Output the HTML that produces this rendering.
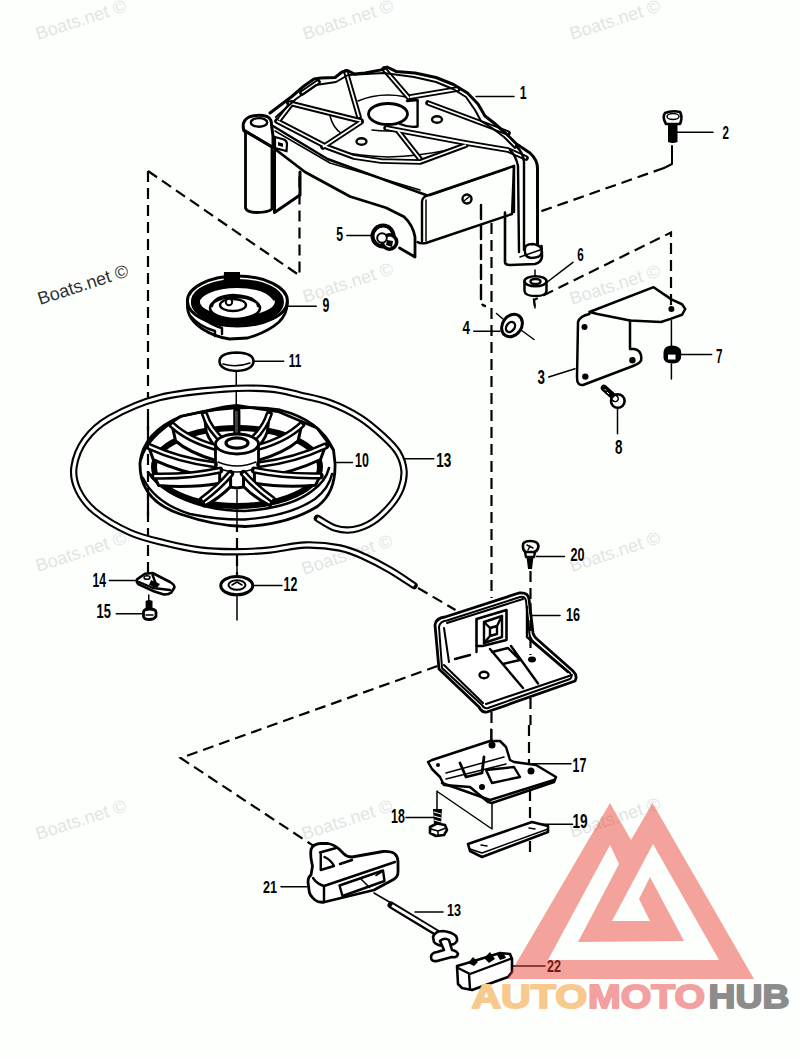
<!DOCTYPE html>
<html><head><meta charset="utf-8">
<style>
html,body{margin:0;padding:0;background:#fdfffd;}
body{width:800px;height:1059px;overflow:hidden;position:relative;}
svg{position:absolute;left:0;top:0;}
.wm{font-family:"Liberation Sans",sans-serif;font-size:18px;fill:#e2e4e2;}
.lb{font-family:"Liberation Sans",sans-serif;font-weight:bold;font-size:20px;fill:#000;}
.k{fill:none;stroke:#000;stroke-width:2.4;stroke-linecap:round;stroke-linejoin:round;}
.t{fill:none;stroke:#000;stroke-width:1.5;stroke-linecap:round;stroke-linejoin:round;}
.d{fill:none;stroke:#000;stroke-width:2.2;stroke-dasharray:11 6;}
.w{fill:#fff;stroke:#000;stroke-width:2.2;stroke-linejoin:round;}
</style></head><body>
<svg width="800" height="1059" viewBox="0 0 800 1059">
<!-- watermarks -->
<g id="wms">
<text class="wm" transform="translate(38,40) rotate(-18)">Boats.net ©</text>
<text class="wm" transform="translate(305,40) rotate(-18)">Boats.net ©</text>
<text class="wm" transform="translate(572,40) rotate(-18)">Boats.net ©</text>
<text class="wm" style="fill:#303030" transform="translate(40,305) rotate(-18)">Boats.net ©</text>
<text class="wm" transform="translate(305,303) rotate(-18)">Boats.net ©</text>
<text class="wm" transform="translate(572,305) rotate(-18)">Boats.net ©</text>
<text class="wm" transform="translate(38,572) rotate(-18)">Boats.net ©</text>
<text class="wm" transform="translate(304,575) rotate(-18)">Boats.net ©</text>
<text class="wm" transform="translate(572,572) rotate(-18)">Boats.net ©</text>
<text class="wm" transform="translate(38,840) rotate(-18)">Boats.net ©</text>
<text class="wm" transform="translate(304,840) rotate(-18)">Boats.net ©</text>
<text class="wm" transform="translate(572,838) rotate(-18)">Boats.net ©</text>
</g>
<!-- dashed lines -->
<g id="dash">
<path class="d" d="M148,171 L148,573"/>
<path class="d" d="M148,171 L299.5,275.5 L299.5,172"/>
<path class="t" style="stroke-width:2" d="M672,146 L672,164 L664,168"/><path class="d" d="M664,168 L537.5,212.5"/>
<path class="d" d="M671,305 L671,232.5 L534,300 L535,307"/>
<path class="d" d="M437.5,666 L180.6,758 L313.75,846"/>
<path class="d" d="M418,588 L455.5,610"/>
<path class="d" d="M491.5,223 L491.5,598"/>
<path class="d" d="M237,470 L237,575"/>
</g>
<!-- labels -->
<g id="labels">
<text class="lb" transform="translate(519.81,99.00) scale(0.620,0.942)">1</text>
<text class="lb" transform="translate(722.50,139.00) scale(0.580,0.943)">2</text>
<text class="lb" transform="translate(537.50,383.56) scale(0.670,0.968)">3</text>
<text class="lb" transform="translate(462.50,333.75) scale(0.670,0.906)">4</text>
<text class="lb" transform="translate(336.25,241.05) scale(0.612,0.982)">5</text>
<text class="lb" transform="translate(577.25,260.81) scale(0.585,0.958)">6</text>
<text class="lb" transform="translate(716.00,363.00) scale(0.580,1.043)">7</text>
<text class="lb" transform="translate(615.00,453.56) scale(0.670,0.968)">8</text>
<text class="lb" transform="translate(322.50,312.31) scale(0.616,0.968)">9</text>
<text class="lb" transform="translate(355.00,467.31) scale(0.619,0.968)">10</text>
<text class="lb" transform="translate(288.75,367.00) scale(0.590,0.960)">11</text>
<text class="lb" transform="translate(283.50,591.10) scale(0.619,0.979)">12</text>
<text class="lb" transform="translate(436.25,467.31) scale(0.676,0.968)">13</text>
<text class="lb" transform="translate(92.40,587.00) scale(0.612,0.996)">14</text>
<text class="lb" transform="translate(96.50,618.40) scale(0.644,0.979)">15</text>
<text class="lb" transform="translate(566.00,620.81) scale(0.631,0.951)">16</text>
<text class="lb" transform="translate(572.50,772.00) scale(0.619,0.996)">17</text>
<text class="lb" transform="translate(391.00,822.70) scale(0.619,0.979)">18</text>
<text class="lb" transform="translate(572.50,828.21) scale(0.680,0.972)">19</text>
<text class="lb" transform="translate(570.50,561.31) scale(0.631,0.951)">20</text>
<text class="lb" transform="translate(263.00,893.20) scale(0.631,0.857)">21</text>
<text class="lb" transform="translate(547.00,972.00) scale(0.631,0.857)">22</text>
<text class="lb" transform="translate(447.00,915.83) scale(0.631,0.845)">13</text>
<path class="t" d="M476,96.5 L514,96.5"/>
<path class="t" d="M677.5,132.3 L713,132.3"/>
<path class="t" d="M548.75,377 L575,368.75"/>
<path class="t" d="M473.75,331.25 L500,331.25"/>
<path class="t" d="M346.9,235.6 L371,235.6"/>
<path class="t" d="M572.9,262.3 L545,283.75"/>
<path class="t" d="M681,354.6 L711.7,354.6"/>
<path class="t" d="M617.5,407.5 L617.5,433.75"/>
<path class="t" d="M286.25,306.25 L316.25,306.25"/>
<path class="t" d="M333.75,462.5 L352.5,462.5"/>
<path class="t" d="M253,361.25 L283.75,361.25"/>
<path class="t" d="M253.25,585.6 L282,585.6"/>
<path class="t" d="M405,458.75 L433.75,458.75"/>
<path class="t" d="M109.4,580.6 L136.25,580.6"/>
<path class="t" d="M116.25,613.75 L143.75,613.75"/>
<path class="t" d="M532,615.5 L560,615.5"/>
<path class="t" d="M532.6,763.75 L571,763.75"/>
<path class="t" d="M406,817.4 L433.6,817.4"/>
<path class="t" d="M542.25,824.25 L572.5,824.25"/>
<path class="t" d="M536.5,556.5 L564.5,556.5"/>
<path class="t" d="M281,886.8 L307,886.8"/>
<path class="t" d="M513,966 L545,966"/>
<path class="t" d="M415,912 L443,912"/>
</g>
<g id="p9">
<path class="w" style="stroke-width:2.8" d="M187.5,303 Q186,318 202.5,329 Q215,337 229.5,339 L247.5,338 Q268,332 279,322 Q287,314 287.2,303 Z"/>
<path class="k" d="M190.5,316 Q200,327 215,331 L215,336 M205,320 Q214,326 222,328 L222,334"/>
<ellipse class="w" style="stroke-width:3" cx="237.4" cy="301" rx="50" ry="25"/>
<ellipse fill="none" stroke="#000" stroke-width="9" cx="237.4" cy="302" rx="42" ry="18.5"/>
<ellipse class="w" style="stroke-width:2.6" cx="235" cy="308" rx="25" ry="11"/>
<path class="k" d="M212,306 Q214,296 233,295 Q256,296 258,306"/>
<ellipse class="w" style="stroke-width:2.4" cx="233" cy="305" rx="13" ry="6"/>
<circle cx="229" cy="302" r="3.2" fill="#fff" stroke="#000" stroke-width="2"/>
<path d="M223.5,281 L224,272 L240,272 L240,281 Z" fill="#000"/>
<path class="t" d="M200,298 Q205,290 214,287 M255,288 Q268,292 274,300"/>
</g>
<!-- cap 11 -->
<g id="p11">
<path class="w" style="stroke-width:2.6" d="M219.5,361.5 Q219.5,353 236.5,352.5 Q253.5,353 253.5,361.5 Q253,370 236.5,371 Q220,370 219.5,361.5 Z"/>
<path class="t" d="M223,364 Q236,368 250,363"/>
</g>
<path class="t" d="M236.25,371 L236.25,404"/>

<g id="p10">
<path class="w" style="stroke-width:2.8" d="M140,463 Q139,500 180,514 Q215,526 245,526.5 Q290,524 318,506 Q336,492 335,463 L333.5,450 Q320,420 280,410 Q237,403 182,416 Q143,432 140,463 Z"/>
<path class="k" d="M143,478 Q155,503 190,514 Q220,520 245,519.5 Q290,516 315,499 Q329,488 332,474"/>
<path class="k" style="stroke-width:2.6" d="M148,472 Q162,494 203.75,506 Q225,511 245,511 Q290,508 312,491 Q326,481 329,468"/>
<path class="k" style="stroke-width:2.8" d="M141,459 Q146,438 180.4,416.5 L224.4,406.9 L236.75,405.5 L278,411.5 L317,428 L333.5,450"/>
<ellipse fill="none" stroke="#000" stroke-width="6" cx="237" cy="467" rx="83" ry="39"/>
<path class="w" style="stroke-width:3" d="M236.9,441.0 Q236.8,425.5 236.8,411.0 L236.8,429.0 Q236.8,440.0 236.9,454.0 Z"/>
<path d="M236.9,441.0 Q236.8,425.5 236.8,411.0" fill="none" stroke="#000" stroke-width="7.2" stroke-linecap="round"/><path d="M236.9,441.0 Q236.8,425.5 236.8,411.0" fill="none" stroke="#fff" stroke-width="2.2"/>
<path class="w" style="stroke-width:3" d="M249.4,442.7 Q264.6,429.0 269.2,414.0 L267.4,431.6 Q263.6,443.3 249.4,455.7 Z"/>
<path d="M249.4,442.7 Q264.6,429.0 269.2,414.0" fill="none" stroke="#000" stroke-width="7.2" stroke-linecap="round"/><path d="M249.4,442.7 Q264.6,429.0 269.2,414.0" fill="none" stroke="#fff" stroke-width="2.2"/>
<path class="w" style="stroke-width:3" d="M224.5,442.8 Q209.1,429.1 204.5,414.0 L206.2,431.6 Q210.1,443.3 224.5,455.8 Z"/>
<path d="M224.5,442.8 Q209.1,429.1 204.5,414.0" fill="none" stroke="#000" stroke-width="7.2" stroke-linecap="round"/><path d="M224.5,442.8 Q209.1,429.1 204.5,414.0" fill="none" stroke="#fff" stroke-width="2.2"/>
<path class="w" style="stroke-width:3" d="M257.9,447.4 Q286.3,439.3 301.7,424.6 L298.1,440.9 Q284.6,452.8 257.9,460.4 Z"/>
<path d="M257.9,447.4 Q286.3,439.3 301.7,424.6" fill="none" stroke="#000" stroke-width="7.2" stroke-linecap="round"/><path d="M257.9,447.4 Q286.3,439.3 301.7,424.6" fill="none" stroke="#fff" stroke-width="2.2"/>
<path class="w" style="stroke-width:3" d="M216.0,447.5 Q187.5,439.4 172.0,424.8 L175.6,441.0 Q189.2,452.9 216.0,460.5 Z"/>
<path d="M216.0,447.5 Q187.5,439.4 172.0,424.8" fill="none" stroke="#000" stroke-width="7.2" stroke-linecap="round"/><path d="M216.0,447.5 Q187.5,439.4 172.0,424.8" fill="none" stroke="#fff" stroke-width="2.2"/>
<path class="w" style="stroke-width:2.8" d="M215.5,445 L215.5,474 Q217,486 237,488 Q257,486 258.5,474 L258.5,445"/>
<path class="t" d="M218,462 Q237,470 256,462 M218,468 Q237,476 256,468"/>
<ellipse class="w" style="stroke-width:2.8" cx="237" cy="444" rx="21.5" ry="10"/>
<ellipse fill="none" stroke="#000" stroke-width="3.2" cx="237" cy="443" rx="11" ry="5.2"/>
<path class="w" style="stroke-width:3" d="M259.8,464.5 Q295.0,460.2 325.4,446.0 L320.5,459.5 Q293.0,472.7 259.8,477.5 Z"/>
<path d="M259.8,464.5 Q295.0,460.2 325.4,446.0" fill="none" stroke="#000" stroke-width="7.2" stroke-linecap="round"/><path d="M259.8,464.5 Q295.0,460.2 325.4,446.0" fill="none" stroke="#fff" stroke-width="2.2"/>
<path class="w" style="stroke-width:3" d="M214.2,464.6 Q179.0,460.4 148.5,446.3 L153.3,459.7 Q181.0,472.9 214.2,477.6 Z"/>
<path d="M214.2,464.6 Q179.0,460.4 148.5,446.3" fill="none" stroke="#000" stroke-width="7.2" stroke-linecap="round"/><path d="M214.2,464.6 Q179.0,460.4 148.5,446.3" fill="none" stroke="#fff" stroke-width="2.2"/>
<path class="w" style="stroke-width:3" d="M254.4,470.2 Q284.6,476.6 320.1,475.8 L315.5,485.3 Q282.9,487.9 254.4,483.2 Z"/>
<path d="M254.4,470.2 Q284.6,476.6 320.1,475.8" fill="none" stroke="#000" stroke-width="7.2" stroke-linecap="round"/><path d="M254.4,470.2 Q284.6,476.6 320.1,475.8" fill="none" stroke="#fff" stroke-width="2.2"/>
<path class="w" style="stroke-width:3" d="M219.7,470.2 Q189.7,476.8 154.2,476.1 L158.7,485.6 Q191.3,488.1 219.7,483.2 Z"/>
<path d="M219.7,470.2 Q189.7,476.8 154.2,476.1" fill="none" stroke="#000" stroke-width="7.2" stroke-linecap="round"/><path d="M219.7,470.2 Q189.7,476.8 154.2,476.1" fill="none" stroke="#fff" stroke-width="2.2"/>
<path class="w" style="stroke-width:3" d="M243.5,473.5 Q255.6,487.5 272.3,499.4 L270.3,505.9 Q255.0,498.1 243.5,486.5 Z"/>
<path d="M243.5,473.5 Q255.6,487.5 272.3,499.4" fill="none" stroke="#000" stroke-width="7.2" stroke-linecap="round"/><path d="M243.5,473.5 Q255.6,487.5 272.3,499.4" fill="none" stroke="#fff" stroke-width="2.2"/>
<path class="w" style="stroke-width:3" d="M230.6,473.6 Q218.8,487.5 202.5,499.6 L204.3,506.0 Q219.4,498.1 230.6,486.6 Z"/>
<path d="M230.6,473.6 Q218.8,487.5 202.5,499.6" fill="none" stroke="#000" stroke-width="7.2" stroke-linecap="round"/><path d="M230.6,473.6 Q218.8,487.5 202.5,499.6" fill="none" stroke="#fff" stroke-width="2.2"/>
<path class="d" d="M148,420 L148,522"/><path class="t" d="M237,405 L237,434 M237,490 L237,526"/>
</g>
<g id="p13">
<path d="M317.4,518.3 C320.3,519.9 328.9,526.1 334.8,528 C340.7,529.9 346.7,530.6 353,529.6 C359.3,528.6 366.2,526.0 372.5,522 C378.8,518.0 385.9,510.9 390.7,505.4 C395.4,499.9 398.8,494.6 401,488.8 C403.2,483.0 404.5,476.8 404,470.7 C403.5,464.6 401.5,458.3 398,452.5 C394.5,446.7 389.3,441.8 383,436 C376.7,430.2 369.2,423.4 360.4,417.8 C351.6,412.2 340.1,406.5 330,402.7 C319.9,398.9 310.0,397.3 300,395 C290.0,392.7 282.5,390.0 270,389 C257.5,388.0 243.3,387.6 225,389 C206.7,390.4 179.2,392.7 160,397.5 C140.8,402.3 122.5,410.9 110,418 C97.5,425.1 91.0,431.8 85,440 C79.0,448.2 75.2,458.7 74,467 C72.8,475.3 74.5,482.6 78,490 C81.5,497.4 86.3,504.4 95,511.5 C103.7,518.6 118.3,527.2 130,532.5 C141.7,537.8 153.3,540.1 165,543 C176.7,545.9 188.3,548.5 200,550 C211.7,551.5 223.3,551.8 235,551.75 C246.7,551.8 258.3,551.1 270,550 C281.7,548.9 293.3,545.3 305,545 C316.7,544.7 330.0,546.0 340,548 C350.0,550.0 356.7,553.3 365,557 C373.3,560.7 381.8,565.2 390,570 C398.2,574.8 410.0,582.9 414,585.5" fill="none" stroke="#000" stroke-width="7.4" stroke-linecap="round"/>
<path d="M317.4,518.3 C320.3,519.9 328.9,526.1 334.8,528 C340.7,529.9 346.7,530.6 353,529.6 C359.3,528.6 366.2,526.0 372.5,522 C378.8,518.0 385.9,510.9 390.7,505.4 C395.4,499.9 398.8,494.6 401,488.8 C403.2,483.0 404.5,476.8 404,470.7 C403.5,464.6 401.5,458.3 398,452.5 C394.5,446.7 389.3,441.8 383,436 C376.7,430.2 369.2,423.4 360.4,417.8 C351.6,412.2 340.1,406.5 330,402.7 C319.9,398.9 310.0,397.3 300,395 C290.0,392.7 282.5,390.0 270,389 C257.5,388.0 243.3,387.6 225,389 C206.7,390.4 179.2,392.7 160,397.5 C140.8,402.3 122.5,410.9 110,418 C97.5,425.1 91.0,431.8 85,440 C79.0,448.2 75.2,458.7 74,467 C72.8,475.3 74.5,482.6 78,490 C81.5,497.4 86.3,504.4 95,511.5 C103.7,518.6 118.3,527.2 130,532.5 C141.7,537.8 153.3,540.1 165,543 C176.7,545.9 188.3,548.5 200,550 C211.7,551.5 223.3,551.8 235,551.75 C246.7,551.8 258.3,551.1 270,550 C281.7,548.9 293.3,545.3 305,545 C316.7,544.7 330.0,546.0 340,548 C350.0,550.0 356.7,553.3 365,557 C373.3,560.7 381.8,565.2 390,570 C398.2,574.8 410.0,582.9 414,585.5" fill="none" stroke="#fff" stroke-width="3.2" stroke-linecap="butt"/>
</g>
<g id="p12">
<ellipse class="w" style="stroke-width:3" cx="236.75" cy="585.6" rx="16" ry="9.2"/>
<ellipse class="k" style="stroke-width:2" cx="237" cy="585" rx="8.5" ry="4.8"/>
<path class="t" d="M232,585 L237,582 L242,585"/>
<path class="t" d="M237,566 L237,576 M237,596 L237,620"/>
</g>
<!-- clip 14 -->
<g id="p14">
<path class="w" style="stroke-width:2.6" d="M137,579.4 L145,573.75 L152.5,573 L170,582 Q175,585 174.4,587.5 L171.25,592.5 Q168,595 163.75,594.4 L153.75,591.25 L138.75,584.4 Q136,582 137,579.4 Z"/>
<path class="k" d="M139,582 L153,588 L170,590 M153,588 L156,584 L152.5,575"/>
<path d="M151,580 L160,584 L157,588 L149,585 Z" fill="#000"/>
<ellipse cx="147" cy="577.5" rx="3" ry="1.8" fill="#fff" stroke="#000" stroke-width="1.5"/>
</g>
<!-- screw 15 -->
<g id="p15">
<path class="t" d="M148.75,595 L148.75,601"/>
<path d="M145.6,601 Q149,599 152.5,601 L152.5,610 L145.6,610 Z" fill="#000"/>
<path class="w" style="stroke-width:2.8" d="M143.5,612 Q144,609 149.5,609 Q155.5,609 156,612 L156,616.5 Q154,619.5 149.5,619.5 Q144,619.5 143.5,616.5 Z"/>
<path class="t" d="M146,615 L153,615"/>
</g>
<!-- bolt 2 -->
<g id="p2">
<path class="k" style="stroke-width:2.6" d="M666,124 Q662,117 665,113 Q672,110 680,112 Q683,117 680,124 Z"/>
<ellipse class="t" cx="673" cy="116.5" rx="6" ry="3"/>
<path d="M668,124 L677.5,124 L677.5,142 Q672.5,144 668,142 Z" fill="#000"/>
</g>
<!-- bracket 3 -->
<g id="p3">
<path class="k" style="stroke-width:2.5" d="M589.4,312 L653.6,287.2 L671.4,299.4 L682,304.25 L685.25,309 L682,314.8 L670.6,318.9 L661,322 L630,320.5 L597.5,314 Z"/>
<path class="k" style="stroke-width:2.5" d="M589.4,314 Q580,316 578,322 L577,377.4 Q577,386 583,385 L633,366 Q642,363 641.4,357.9 Q641,350 634,349 L630,349 L630,320.5"/>
<circle cx="671.4" cy="309" r="3" fill="#000"/>
<circle cx="585.3" cy="376.6" r="3.2" fill="#000"/>
<circle cx="632.4" cy="360.3" r="3.2" fill="#000"/>
<circle cx="584.5" cy="327" r="3" fill="#000"/>
</g>
<!-- washer 4 -->
<g id="p4">
<ellipse class="k" style="stroke-width:3" cx="512" cy="325.5" rx="9.5" ry="12" transform="rotate(35 512 325.5)"/>
<ellipse class="k" cx="510.5" cy="327" rx="4" ry="5.5" transform="rotate(35 510.5 327)"/>
<path class="t" d="M496.5,313.5 L503,319 M521,330 L534,339.5"/>
</g>
<!-- bushing 6 -->
<g id="p6">
<path class="k" style="stroke-width:2.5" d="M524.5,281.5 L524.5,291 Q525,296 535.5,296 Q546,296 546.5,291 L546.5,281.5"/>
<ellipse class="k" style="stroke-width:2.5" cx="535.5" cy="281.25" rx="11" ry="5"/>
<ellipse class="k" cx="535.5" cy="281.5" rx="5" ry="2.5"/>
<path class="t" d="M535,270 L535,276"/>
</g>
<!-- nut 7 -->
<g id="p7">
<path d="M663.5,352 Q664,345.5 672,345.5 Q681,346 681.2,352 L681,358 Q680,363.5 672,363.5 Q664,363 663.5,358 Z" fill="#000"/>
<path d="M668,354.6 L675.5,354.6 L675.5,359.5 L668,359.5 Z" fill="#fff"/>
<path class="t" d="M671.4,320.5 L671.4,346 M671.4,364 L671.4,379"/>
</g>
<!-- bolt 8 -->
<g id="p8">
<path d="M604,388 L614,397" fill="none" stroke="#000" stroke-width="6.5" stroke-linecap="round"/>
<path d="M604.5,389 L606,390.5 M607,392 L609,394" fill="none" stroke="#fff" stroke-width="1"/>
<circle cx="617.8" cy="401" r="6.8" fill="#fff" stroke="#000" stroke-width="2.6"/>
<ellipse cx="614.5" cy="398" rx="4" ry="3.2" fill="none" stroke="#000" stroke-width="1.6" transform="rotate(40 614.5 398)"/>
</g>
<!-- extra lines near housing -->
<path class="k" style="stroke-dasharray:14 6" d="M481,205 L481,300 Q481,305 485,306"/>
<path class="t" d="M533.5,299 L535,308"/>
<!-- bolt 20 -->
<g id="p20">
<path class="k" style="stroke-width:2.6" d="M523,547 Q522,541 530,541 Q538,541 538.5,546 Q538,551 534,552 L526,552 Q523,551 523,547 Z"/>
<path class="t" d="M527,545 L533,548 M530,546 L528,550"/>
<path class="k" d="M525,552 L526,557 L534,557 L535,552"/>
<path d="M526.5,557 L533.5,557 L532,569 L528,569 Z" fill="#000"/>
</g>
<path class="d" d="M530.5,571 L530.5,600"/>
<!-- guide 16 -->
<g id="p16">
<path class="w" style="stroke-width:2.8" d="M435,625 Q436,618 445,617 L519,593 Q528,592 529,599 L533,633 Q534,637 538,640 L573,671 Q578,676 575,681 L487,712 Q482,713 479,707 L439,669 Z"/>
<path class="k" style="stroke-width:2" d="M439,627 Q440,621 447,620.5 L520,597 Q525,596 526,601 L529.5,634 Q530,639 535,643 L570,673 Q573,677 570,679 L488,708 Q484,709 482,705 L442,668 Z"/>
<path class="k" style="stroke-width:2" d="M444,628 L449,662 M447,623 L523,599 M486,704 L572,675 M444,665 L483,703"/>
<path class="k" d="M527,607 L527,637 L568,672"/>
<path class="k" d="M455,659 L470,655"/>
<path class="k" style="stroke-width:2.6" d="M476.5,619 L506.5,610 L506.5,640 L482.5,646 L476.5,646 Z"/>
<path class="k" d="M484,622 L502,616 L502,637 L484,643 Z"/>
<path class="k" d="M490,628 L497,626 L497,634 L490,636 Z M484,622 L490,628 M502,616 L497,626 M484,643 L490,636"/>
<path class="k" d="M476.5,646 L476.5,652 M490,649 L523,688 M511,646 L538,683.5 M492,652 L508,648 L520,660 L503,664"/>
<ellipse class="k" cx="484" cy="675" rx="4.5" ry="3.2"/>
<ellipse cx="532" cy="659.5" rx="4" ry="3" fill="#000"/>
<path class="d" d="M530.5,603 L530.5,655"/>
</g>
<path class="d" d="M491.5,712 L491.5,740"/>
<path class="d" d="M530.5,698 L530.5,725"/>
<!-- plate 17 -->
<g id="p17">
<path class="w" style="stroke-width:2.5" d="M428,762 L432,760 L490,741 L500,741 L506,747 L510,760 L514,762 L536,765 L556,777 L554,782 L492,803 L488,802 L470,787 L444,785 L440,777 L432,769 Z"/>
<path class="k" d="M442,783 L490,800 L554,780"/>
<circle cx="492" cy="745" r="3.5" fill="#000"/>
<circle cx="531" cy="771" r="3.5" fill="#000"/>
<circle cx="482" cy="787" r="3" fill="#000"/>
<circle cx="438" cy="765" r="2" fill="#000"/>
<path class="k" d="M486,770 L514,767 L520,777 L492,783 Z"/>
<path class="k" style="stroke-width:2.8" d="M460,763 L466,777 L482,773 L484,757"/>
<path class="t" d="M446,773 L504,757 M446,779 L506,764"/>
</g>
<path class="t" d="M491,729 L491,741"/>
<path class="d" d="M529,725 L529,765"/>
<path class="t" d="M437,791 L437,809 M438,792 L492,829 M492,803 L492,829"/>
<path class="d" d="M530,790 L530,822 M530,841 L530,852"/>
<!-- screw 18 -->
<g id="p18">
<path d="M433,809 L442,809 L441,825 L434,825 Z" fill="#000"/>
<path class="t" d="M434,812 L441,814 M434,816 L441,818 M434,820 L441,822" style="stroke:#fff;stroke-width:1"/>
<path class="w" style="stroke-width:2.6" d="M430,827 L437,823.5 L445,825 L447,830 L444,835 L436,836 L430,833 Z"/>
<path class="t" d="M431,829 L438,831 L446,828 M438,831 L438,835.5"/>
</g>
<!-- plate 19 -->
<g id="p19">
<path class="w" style="stroke-width:2.6" d="M468,844 L532,822 L548,826 L548,832 L482,857 L470,851 Z"/>
<path class="t" d="M470,849 L482,853 L548,829"/>
<path class="t" d="M481,845 L487,846 M529,828 L535,829"/>
</g>
<!-- handle 21 -->
<g id="p21">
<path class="w" style="stroke-width:2.8" d="M311,875 L312.5,866 Q310,856 311,849.5 Q313,844 320,843.5 L328,843.5 Q335,845 339,849 L344,854 Q347,857 352,857 L383,851.5 Q391,851 395,854 Q398,857 398,862 L398,872 Q398,877 393.5,879.5 L374,890 L324.5,902 Q319,903 315,900 Q309,895 309,890 L308,882 Q308,877 311,875 Z"/>
<path class="k" d="M313,878 Q317,884 324,886 L395,862 M324,887 L324,901"/>
<path class="k" style="stroke-width:2.4" d="M339.5,885.5 L383,870.5 L384.5,881 L342.5,896 Z"/>
<path class="t" d="M361,879 L369.5,887.5 M376,875.5 L383,871"/>
<path class="k" d="M320.75,852.5 L320.75,870 M320,852.5 L336,848 M324.5,857 Q331,860 334,866 L320.75,870 M340,864 L352,860"/>
</g>
<path class="t" d="M374,893 L392,903.5"/>
<!-- pin 13 -->
<g id="p13b">
<path d="M391,905 L437,933" fill="none" stroke="#000" stroke-width="7" stroke-linecap="round"/>
<path d="M392,905.5 L436,932" fill="none" stroke="#fff" stroke-width="2.8"/>
<path class="w" style="stroke-width:2.6" d="M433,937 Q435,931 443,931 Q452,932 456,936 Q459,941 454,944 L446,946 Q437,946 434,942 Z"/>
<path class="w" style="stroke-width:2.6" d="M440,941 Q444,937 449,940 L452,950 Q457,951 458,954 Q457,958 452,957 L437,961 Q431,962 431,957 Q431,953 437,952 L444,950 Z"/>
</g>
<!-- rubber 22 -->
<g id="p22">
<path class="w" style="stroke-width:2.6" d="M457,966 L464,964 L500,953 L510,954 L512,959 L512,972 L508,977 L472,990 L462,988 L458,984 Z"/>
<path class="k" d="M458,968 L470,974 L510,959 M469,974 L470,989"/>
<path d="M468,963 L473,957 L478,962 L474,966 Z M484,958 L490,952 L495,959 L489,963 Z M497,955 L503,952 L506,958 L500,960 Z" fill="#000"/>
</g>


<!-- housing part 1 -->
<g id="housing">
<path class="t" d="M330,116 Q333,128 342,134 M372,130 Q388,132 404,130 M358,101 Q372,95 388,95 Q404,95 418,101"/>
<path class="t" d="M336,151 Q360,156 388,157 Q420,156 448,150"/>
<path class="k" d="M407,101 L417.6,100 L417.6,126.5 Q410,128 400,124"/>
<path d="M277,121 L304,135 L327,147 L354,157 L381,161 L420,162 L466,145" fill="none" stroke="#000" stroke-width="5.6" stroke-linejoin="round" stroke-linecap="round"/>
<path d="M386,128 L466,143 L508,150 L526,158" fill="none" stroke="#000" stroke-width="5.6" stroke-linejoin="round" stroke-linecap="round"/>
<path d="M279,120 L292,103" fill="none" stroke="#000" stroke-width="5.6" stroke-linejoin="round" stroke-linecap="round"/>
<path d="M289,103 L361,121" fill="none" stroke="#000" stroke-width="5.6" stroke-linejoin="round" stroke-linecap="round"/>
<path d="M323,147 L361,122" fill="none" stroke="#000" stroke-width="5.6" stroke-linejoin="round" stroke-linecap="round"/>
<path d="M398,131 L420,159" fill="none" stroke="#000" stroke-width="5.6" stroke-linejoin="round" stroke-linecap="round"/>
<path d="M428,103 L508,133" fill="none" stroke="#000" stroke-width="5.6" stroke-linejoin="round" stroke-linecap="round"/>
<path d="M346,72 L359,117" fill="none" stroke="#000" stroke-width="5.6" stroke-linejoin="round" stroke-linecap="round"/>
<path d="M384,69 L409,98" fill="none" stroke="#000" stroke-width="5.6" stroke-linejoin="round" stroke-linecap="round"/>
<path d="M410,97 L458,89" fill="none" stroke="#000" stroke-width="5.6" stroke-linejoin="round" stroke-linecap="round"/>
<path d="M302,93 L318,82" fill="none" stroke="#000" stroke-width="5.6" stroke-linejoin="round" stroke-linecap="round"/>
<path d="M277,121 L304,135 L327,147 L354,157 L381,161 L420,162 L466,145" fill="none" stroke="#fff" stroke-width="1.8" stroke-linejoin="round" stroke-linecap="butt"/>
<path d="M386,128 L466,143 L508,150 L526,158" fill="none" stroke="#fff" stroke-width="1.8" stroke-linejoin="round" stroke-linecap="butt"/>
<path d="M279,120 L292,103" fill="none" stroke="#fff" stroke-width="1.8" stroke-linejoin="round" stroke-linecap="butt"/>
<path d="M289,103 L361,121" fill="none" stroke="#fff" stroke-width="1.8" stroke-linejoin="round" stroke-linecap="butt"/>
<path d="M323,147 L361,122" fill="none" stroke="#fff" stroke-width="1.8" stroke-linejoin="round" stroke-linecap="butt"/>
<path d="M398,131 L420,159" fill="none" stroke="#fff" stroke-width="1.8" stroke-linejoin="round" stroke-linecap="butt"/>
<path d="M428,103 L508,133" fill="none" stroke="#fff" stroke-width="1.8" stroke-linejoin="round" stroke-linecap="butt"/>
<path d="M346,72 L359,117" fill="none" stroke="#fff" stroke-width="1.8" stroke-linejoin="round" stroke-linecap="butt"/>
<path d="M384,69 L409,98" fill="none" stroke="#fff" stroke-width="1.8" stroke-linejoin="round" stroke-linecap="butt"/>
<path d="M410,97 L458,89" fill="none" stroke="#fff" stroke-width="1.8" stroke-linejoin="round" stroke-linecap="butt"/>
<path d="M302,93 L318,82" fill="none" stroke="#fff" stroke-width="1.8" stroke-linejoin="round" stroke-linecap="butt"/>
<path class="k" style="stroke-width:2" d="M276,117 L296,99 L316,85 L336,82 L348,75 L384,73 L414,77 L436,82 L453,89 L466,97 L475,110 L481,121 L492,128 L504,137 L515,148"/>
<ellipse class="w" style="stroke-width:2.8" cx="388" cy="114" rx="19.5" ry="10.5"/>
<ellipse class="k" cx="361.5" cy="141.5" rx="5" ry="3.2"/>
<ellipse class="k" cx="437" cy="119.5" rx="5" ry="3.2"/>
<path class="k" style="stroke-width:3" d="M270,113 L291.5,96.75 L304,86 L314,79 L321,78 L335,77.5 L342,72 L347.5,70.5 L354.5,74 L365,73 L382.5,69.6 L387,67 L396,71.4 L415,73 L436,77.5 L453.5,84.5 L467.5,93 L478,104 L485,116 L494,123 L506,133.5 L516.5,144 L530,153 Q537.5,160 537.5,168 L537.5,245"/>
<path class="w" style="stroke-width:3" d="M244,131 Q241,121 249,117 Q258,114 267,116.5 Q272,119 271.5,125 L273,136 L273,147.5 L245,131 Z"/>
<ellipse class="k" style="stroke-width:2.4" cx="259" cy="122.4" rx="8.2" ry="4.3"/>
<path class="k" style="stroke-width:2.8" d="M245.5,131 L245.5,208 Q247,212.5 256.7,212.5 Q268,212.5 272,209 L272,148"/>
<path class="k" style="stroke-width:3" d="M274.5,151 L274.5,212.5 L300,195 L300,172"/>
<path d="M275,137 L284,139.5 Q287,141 287,144 L286.5,151 L275,148 Z" fill="#fff" stroke="#000" stroke-width="2.2"/>
<path d="M278,142 L283,143.5 L283,147 L278,145.5 Z" fill="#000"/>
<path class="k" style="stroke-width:2.8" d="M245,131 L273,147.5 L305,172 L350,196.5 L386,207.75 L404,216.75 Q413,225 415,237 L415,257 L399.5,248"/>
<path class="k" style="stroke-width:2.4" d="M273,126 L327.5,159 L426,195"/>
<path class="t" d="M275,131 L330,163 L420,190"/>
<path class="k" style="stroke-width:2.4" d="M417.5,242 Q420,244 426,243 L512,214 L514,166 L426,196 Q422,198 422,202 L422,241"/>
<path class="t" d="M430,195.5 L507,169"/>
<path class="t" d="M426,200 L426,241"/>
<circle class="k" cx="467" cy="199" r="4.5"/>
<path class="t" d="M464,201 L470,196"/>
<!-- right rim strip and leg -->
<path class="k" d="M516,146 Q523,152 524,162 L524,250"/>
<path class="k" d="M510,150 Q516,156 518,166 L519,252"/>
<path class="k" d="M514,166 L514,212"/>
<path class="k" style="stroke-width:2.6" d="M505,212.5 L505,262 Q505,265 510,265 L535,264 Q542,262 542,256 L541.5,246"/>
<path class="k" d="M525,250 Q524,244 533,244 Q542,245 542,252 Q541,258 531,258 Q525,257 525,252"/>
<path class="t" d="M520,257 L540,250"/>
<!-- nut 5 -->
<circle cx="383" cy="236" r="10.5" fill="#fff" stroke="#000" stroke-width="4"/>
<circle cx="389.5" cy="242" r="7.2" fill="#fff" stroke="#000" stroke-width="3.6"/>
<circle cx="382" cy="238" r="4.8" fill="#fff" stroke="#000" stroke-width="2"/>
<path d="M387,240 L393,241 L392,247 L386,245 Z" fill="#000"/>
<path d="M375,232 Q377,227 382,227" fill="none" stroke="#000" stroke-width="1.5"/>
</g>
<!-- logo -->
<g id="logo">
<path fill="rgba(232,62,48,0.48)" fill-rule="evenodd" d="M507,979 L610,803 L631,840 L652.5,803 L754,979 Z M610,845 L548,960 L719,960 L653,844 L612,921 L650,921 L639,899 L650,877 L684,941 L578,942 L619,864 Z"/>
<text transform="translate(471.4,1007.5) scale(1.236,1)" style="font-family:'Liberation Sans',sans-serif;font-weight:bold;font-size:33.3px;fill:#f8c98c;stroke:#f8c98c;stroke-width:1.8;stroke-linejoin:round">AUTO</text>
<text transform="translate(588,1007.5) scale(1.18,1)" style="font-family:'Liberation Sans',sans-serif;font-weight:bold;font-size:33.3px;fill:#f2a0a0;stroke:#f2a0a0;stroke-width:1.8;stroke-linejoin:round">MOTO</text>
<text transform="translate(708.6,1007.5) scale(1.12,1)" style="font-family:'Liberation Sans',sans-serif;font-weight:bold;font-size:33.3px;fill:#8c8c8c;stroke:#8c8c8c;stroke-width:1.8;stroke-linejoin:round">HUB</text>
</g>
</svg>
</body></html>
